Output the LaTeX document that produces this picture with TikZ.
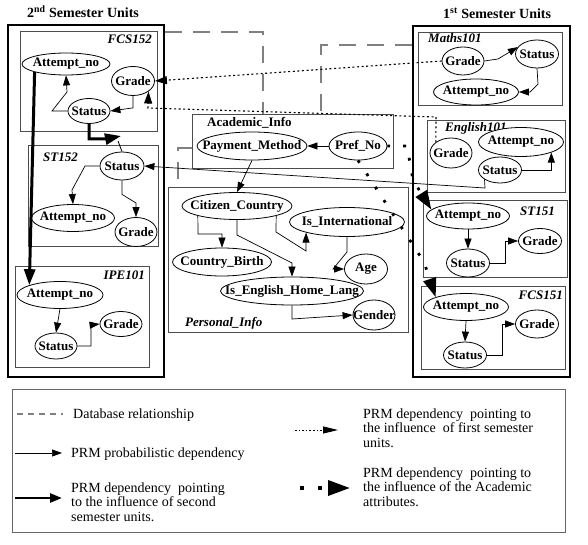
\documentclass[tikz,border=0pt]{standalone}
\usepackage{fontspec}
\setmainfont{Liberation Serif}
\usetikzlibrary{shapes.geometric,arrows.meta}
\newcommand{\zw}[1]{\hbox to 0pt{\hss#1\hss}}
\definecolor{dbgray}{RGB}{128,128,128}
\tikzset{
  ell/.style={ellipse, draw, fill=white, line width=0.8pt, inner sep=0pt, font=\bfseries\fontsize{13}{13}\selectfont},
  sz/.style 2 args={minimum width=#1pt, minimum height=#2pt},
  ubox/.style={draw=black!70, line width=0.9pt, inner sep=0pt},
  obox/.style={draw=black, line width=1.5pt, inner sep=0pt},
  lab/.style={inner sep=0pt},
  blab/.style={inner sep=0pt, font=\bfseries\itshape\fontsize{13}{13}\selectfont},
  ttl/.style={inner sep=0pt, font=\bfseries\fontsize{14}{15}\selectfont},
  ltxt/.style={inner sep=0pt, align=left, font=\fontsize{14}{14.5}\selectfont},
  arr/.style={line width=0.7pt, -{Triangle[length=10pt,width=7pt]}},
  thickarr/.style={line width=3pt, -{Triangle[length=16pt,width=11pt]}},
  dotarr/.style={line width=1.1pt, dash pattern=on 2pt off 2.6pt, -{Triangle[length=12pt,width=8pt]}},
  sqarr/.style={line width=2.8pt, dash pattern=on 2.8pt off 13pt, -{Triangle[length=19pt,width=13pt]}},
  dbline/.style={draw=dbgray, line width=2.6pt, dash pattern=on 17pt off 11pt},
}
\begin{document}
\begin{tikzpicture}[x=1pt,y=-1pt]
\useasboundingbox (0,0) rectangle (588,545);
\fill[white] (0,0) rectangle (588,545);

% titles
\node[ttl, anchor=base west] (t2) at (27,18) {2\textsuperscript{nd} Semester Units};
\node[ttl, anchor=base west] (t1) at (443,19) {1\textsuperscript{st} Semester Units};

% boxes
\node[obox, minimum width=156pt, minimum height=352pt] (L) at (86,201) {};
\node[obox, minimum width=157pt, minimum height=351pt] (R) at (491.5,201.5) {};
\node[ubox, minimum width=137pt, minimum height=100pt] (bF2) at (88.5,81) {};
\node[ubox, minimum width=130pt, minimum height=101pt] (bS2) at (93,195.5) {};
\node[ubox, minimum width=134pt, minimum height=101pt] (bI) at (82,316.5) {};
\node[ubox, minimum width=144pt, minimum height=73pt] (bM) at (490,68.5) {};
\node[ubox, minimum width=138pt, minimum height=72pt] (bE) at (496,156) {};
\node[ubox, minimum width=144pt, minimum height=77pt] (bT) at (495,238.5) {};
\node[ubox, minimum width=144pt, minimum height=83pt] (bC) at (493,327.5) {};
\node[ubox, minimum width=201pt, minimum height=54pt] (ac) at (292.5,141) {};
\node[ubox, minimum width=240pt, minimum height=145pt] (pi) at (288,259.5) {};

% box labels
\node[blab, anchor=base east] (lF2) at (152,44) {FCS152};
\node[blab, anchor=base west] (lS2) at (43,162) {ST152};
\node[blab, anchor=base east] (lI) at (145,279) {IPE101};
\node[blab, anchor=base west] (lM) at (428,43) {Maths101};
\node[blab, anchor=base west] (lE) at (445,132) {English101};
\node[blab, anchor=base east] (lT) at (555,215) {ST151};
\node[blab, anchor=base east] (lC) at (563,299) {FCS151};
\node[lab, anchor=base west, font=\bfseries\fontsize{13}{13}\selectfont] (lA) at (207,127) {Academic\_Info};
\node[blab, anchor=base west] (lP) at (185,326) {Personal\_Info};

% database relationships
\draw[dbline] (L.east |- 0,32) -| (ac.north -| 263,0);
\draw[dbline] (R.west |- 0,45) -| (ac.north -| 321,0);
\draw[dbline] (ac.west |- 0,148) -| (pi.north -| 178,0);

% nodes
\node[ell, sz={88}{22}] (f2a) at (66,64) {\zw{Attempt\_no}};
\node[ell, sz={43}{29}] (f2g) at (133,81) {\zw{Grade}};
\node[ell, sz={42}{25}] (f2s) at (89,111) {\zw{Status}};
\node[ell, sz={44}{28}] (s2s) at (122,166) {\zw{Status}};
\node[ell, sz={83}{27}] (s2a) at (73,218) {\zw{Attempt\_no}};
\node[ell, sz={42}{29}] (s2g) at (136,232) {\zw{Grade}};
\node[ell, sz={86}{27}] (ia) at (60,295) {\zw{Attempt\_no}};
\node[ell, sz={42}{26}] (is) at (56,346) {\zw{Status}};
\node[ell, sz={42}{25}] (ig) at (121,324) {\zw{Grade}};
\node[ell, sz={42}{28}] (mg) at (463,61) {\zw{Grade}};
\node[ell, sz={43}{28}] (ms) at (537,54) {\zw{Status}};
\node[ell, sz={85}{26}] (ma) at (476,92) {\zw{Attempt\_no}};
\node[ell, sz={42}{30}] (eg) at (451,153) {\zw{Grade}};
\node[ell, sz={85}{29}] (ea) at (521,142) {\zw{Attempt\_no}};
\node[ell, sz={43}{26}] (es) at (500,170) {\zw{Status}};
\node[ell, sz={83}{26}] (ta) at (468,216) {\zw{Attempt\_no}};
\node[ell, sz={43}{28}] (ts) at (468,263) {\zw{Status}};
\node[ell, sz={43}{25}] (tg) at (540,241) {\zw{Grade}};
\node[ell, sz={85}{27}] (ca) at (466,307) {\zw{Attempt\_no}};
\node[ell, sz={43}{26}] (cs) at (465,355) {\zw{Status}};
\node[ell, sz={43}{28}] (cg) at (537,324) {\zw{Grade}};
\node[ell, sz={110}{28}] (pm) at (252,146) {\zw{Payment\_Method}};
\node[ell, sz={58}{28}] (pn) at (358,146) {\zw{Pref\_No}};
\node[ell, sz={110}{27}] (cc) at (237,206) {\zw{Citizen\_Country}};
\node[ell, sz={115}{29}] (ii) at (347,222) {\zw{Is\_International}};
\node[ell, sz={99}{28}] (cb) at (222,262) {\zw{Country\_Birth}};
\node[ell, sz={43}{30}] (ag) at (366,269) {\zw{Age}};
\node[ell, sz={143}{28}] (ie) at (292,291) {\zw{Is\_English\_Home\_Lang}};
\node[ell, sz={42}{30}] (ge) at (374,315) {\zw{Gender}};

% FCS152
\draw[arr] (f2s.west) -- (52,111) -- (67,92) -- (f2a.south);
\draw[arr] (f2g.south) -- ++(0,12) -- (f2s.east);
\coordinate (k1) at (121,136);
\coordinate (k2) at (118,141);
\draw[thickarr] (f2s.south) |- (106,139) -- (k1);
\draw[line width=0.8pt] (k2) -- (s2s.north);
\draw[thickarr] (f2a.south west) -- (ia.north west);
% ST152
\draw[arr] (s2s.west) -- (85,166) -- (72,190) -- (s2a.north);
\draw[arr] (s2s.south) -- ++(0,14) -- (136,203) -- (s2g.north);
\draw[arr] (es.south west) -- (485,188) -- (s2s.east);
% IPE101
\draw[arr] (ia.south) -- (is.north);
\draw[arr] (is.east) -- (91,346) -- (91,325) -- (ig.west);
% Maths101
\draw[arr] (mg.east) -- (498,59) -- (ms.160);
\draw[arr] (ms.south) -- (538,84) -- (530,92) -- (ma.east);
% English101
\draw[arr] (es.east) -| (ea.south east);
% ST151
\draw[arr] (ta.south) -- (ts.north);
\draw[arr] (ts.east) -- (505,263) -- (505,241) -- (tg.west);
% FCS151
\draw[arr] (ca.south) -- (cs.north);
\draw[arr] (cs.east) -- (502,355) -- (502,324) -- (cg.west);
% dotted: first semester influence
\draw[dotarr] (mg.west) -- (f2g.east);
\draw[dotarr] (eg.north west) -- (436,117) -- (148,108) -- (f2g.south east);
% academic influence
\draw[sqarr] (pn.east) -- (407,146) -- (413,180) -- (ta.170);
\draw[sqarr] (pn.south) -- (424,262) -- (ca.north west);
% academic / personal
\draw[arr] (pn.west) -- (pm.east);
\draw[arr] (pm.south) -- (cc.north);
\draw[arr] (cc.south west) -- (198,234) -- (222,234) -- (cb.north);
\draw[arr] (cc.south) -- (237,235) -- (292,263) -- (ie.north);
\draw[arr] (cc.south east) -- (276,232) -- (306,251) -- (ii.south west);
\draw[arr] (ii.south) -- (347,252) -- (333,269) -- (ag.west);
\draw[arr] (ie.south) -- (292,319) -- (ge.west);

% legend
\node[draw=black!60, line width=0.9pt, minimum width=553pt, minimum height=143pt, inner sep=0pt] (lg) at (288.5,460.5) {};
\coordinate (a1) at (17,414); \coordinate (a2) at (63,414);
\draw[draw=dbgray, line width=2pt, dash pattern=on 6pt off 5pt] (a1) -- (a2);
\node[ltxt, anchor=base west] (x1) at (73,418) {Database relationship};
\coordinate (b1) at (15,453); \coordinate (b2) at (62,453);
\draw[arr] (b1) -- (b2);
\node[ltxt, anchor=base west] (x2) at (71,457) {PRM probabilistic dependency};
\coordinate (c1) at (15,498); \coordinate (c2) at (62,498);
\draw[line width=2.5pt, -{Triangle[length=12pt,width=9pt]}] (c1) -- (c2);
\node[ltxt, anchor=base west] (x3) at (71,521) {PRM dependency\ \ pointing\\to the influence of second\\semester units.};
\coordinate (d1) at (295,430); \coordinate (d2) at (338,430);
\draw[line width=1pt, dash pattern=on 1.6pt off 2pt, -{Triangle[length=15pt,width=7pt]}] (d1) -- (d2);
\node[ltxt, anchor=base west] (x4) at (363,447) {PRM dependency\ \ pointing to\\the influence\ \ of first semester\\units.};
\coordinate (e1) at (300,488); \coordinate (e2) at (350,488);
\draw[line width=3.5pt, dash pattern=on 3.5pt off 14.5pt, -{Triangle[length=22pt,width=15pt]}] (e1) -- (e2);
\node[ltxt, anchor=base west] (x5) at (363,506) {PRM dependency\ \ pointing to\\the influence of the Academic\\attributes.};
\end{tikzpicture}
\end{document}
